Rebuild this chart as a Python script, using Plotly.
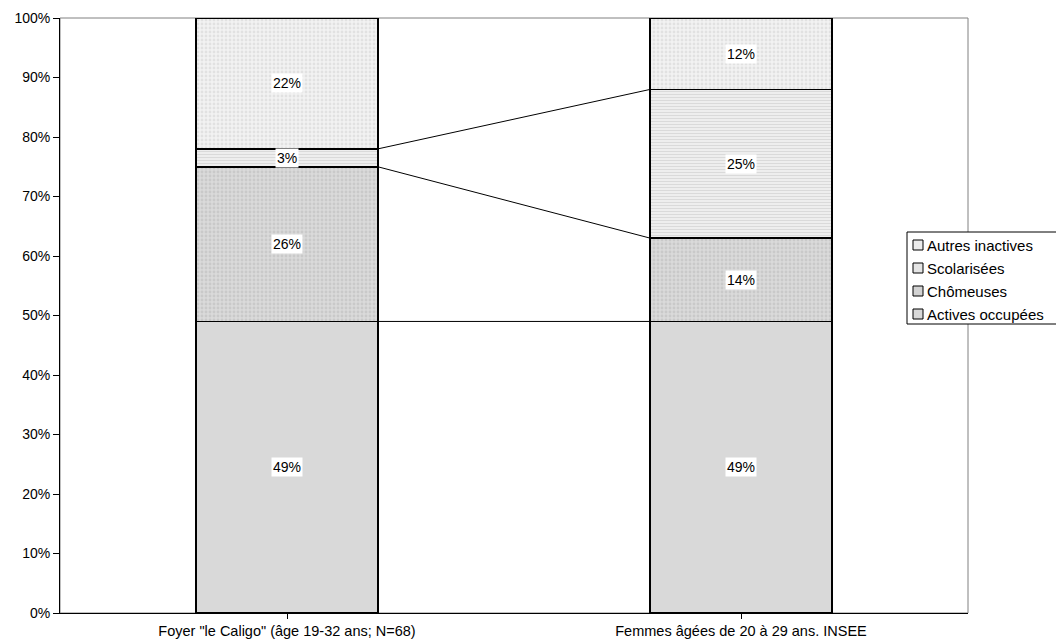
import plotly.graph_objects as go
import numpy as np

categories = ['Foyer "le Caligo" (âge 19-32 ans; N=68)', 'Femmes âgées de 20 à 29 ans. INSEE']
series_names = ["Actives occupées", "Chômeuses", "Scolarisées", "Autres inactives"]
actives = [49, 49]
chomeuses = [26, 14]
scolarisees = [3, 25]
autres = [22, 12]
y_ticks = [0, 10, 20, 30, 40, 50, 60, 70, 80, 90, 100]

values = [actives, chomeuses, scolarisees, autres]
styles = [
    dict(color="#d9d9d9"),
    dict(color="#d2d2d2", pattern=dict(shape=".", fgcolor="#b8b8b8", bgcolor="#dadada", size=4, solidity=0.4)),
    dict(color="#e4e4e4", pattern=dict(shape="-", fgcolor="#c4c4c4", bgcolor="#f0f0f0", size=3, solidity=0.4)),
    dict(color="#ececec", pattern=dict(shape=".", fgcolor="#cfcfcf", bgcolor="#f2f2f2", size=4, solidity=0.4)),
]

FONT = "Liberation Sans, Arial, sans-serif"
W, H = 1056, 642
ML, MR, MT, MB = 60, 88, 18, 29
PW, PH = W - ML - MR, H - MT - MB

BAR_W = 0.4
xpos = [0, 1]
fig = go.Figure()
for name, vals, st in zip(series_names, values, styles):
    marker = dict(color=st["color"], line=dict(color="black", width=1.5))
    if "pattern" in st:
        marker["pattern"] = st["pattern"]
    fig.add_trace(go.Bar(x=xpos, y=vals, name=name, width=BAR_W, marker=marker, showlegend=False))

# series lines connecting cumulative boundaries
cum = np.cumsum(np.array(values), axis=0)
lx, ly = [], []
for row in cum[:-1]:
    lx += [xpos[0] + BAR_W / 2, xpos[1] - BAR_W / 2, None]
    ly += [row[0], row[1], None]
fig.add_trace(go.Scatter(x=lx, y=ly, mode="lines", line=dict(color="black", width=1),
                         showlegend=False, hoverinfo="skip"))

# labels
starts = cum - np.array(values)
for i in range(len(values)):
    for j in range(len(xpos)):
        v = values[i][j]
        fig.add_annotation(x=xpos[j], y=starts[i][j] + v / 2, text=f"{v}%", showarrow=False,
                           bgcolor="white", borderpad=1,
                           font=dict(family=FONT, size=14, color="black"))

# custom legend (pixel positions -> paper coords)
def px(x):
    return (x - ML) / PW
def py(y):
    return (H - MB - y) / PH

fig.add_shape(type="rect", xref="paper", yref="paper", x0=px(907), x1=px(1060), y0=py(324), y1=py(232),
              line=dict(color="black", width=1), fillcolor="white", layer="above")
leg_y = [314, 291, 268, 245]  # Actives, Chômeuses, Scolarisées, Autres
for name, st, yy in zip(series_names, styles, leg_y):
    fig.add_shape(type="rect", xref="paper", yref="paper", x0=px(913), x1=px(923), y0=py(yy + 5), y1=py(yy - 5),
                  line=dict(color="black", width=1), fillcolor=st["color"], layer="above")
    fig.add_annotation(xref="paper", yref="paper", x=px(925), y=py(yy), text=name, showarrow=False,
                       xanchor="left", yanchor="middle", font=dict(family=FONT, size=15, color="black"))

fig.update_layout(
    barmode="stack",
    width=W, height=H,
    margin=dict(l=ML, r=MR, t=MT, b=MB, autoexpand=False),
    paper_bgcolor="white", plot_bgcolor="white",
    font=dict(family=FONT, size=14, color="black"),
    showlegend=False,
    hovermode=False,
    xaxis=dict(range=[-0.5, 1.5], tickmode="array", tickvals=xpos, ticktext=categories,
               ticks="outside", tickson="boundaries", ticklen=5, tickcolor="black",
               showline=True, linecolor="black", linewidth=1, mirror=False, automargin=False,
               showgrid=False, zeroline=False, tickfont=dict(size=14.5)),
    yaxis=dict(range=[0, 100], tickmode="array", tickvals=y_ticks,
               ticktext=[f"{t}%" for t in y_ticks], ticks="outside", ticklen=6,
               tickcolor="black", showline=True, linecolor="black", linewidth=1, automargin=False,
               showgrid=False, zeroline=False, tickfont=dict(size=14)),
)
# plot frame (top/right grey)
fig.add_shape(type="rect", xref="paper", yref="paper", x0=0, y0=0, x1=1, y1=1,
              line=dict(color="#808080", width=1), layer="below")

fig.write_html("out.html", config={"displayModeBar": False},
               post_script="document.body.style.margin='0px';document.body.style.overflow='hidden';")
